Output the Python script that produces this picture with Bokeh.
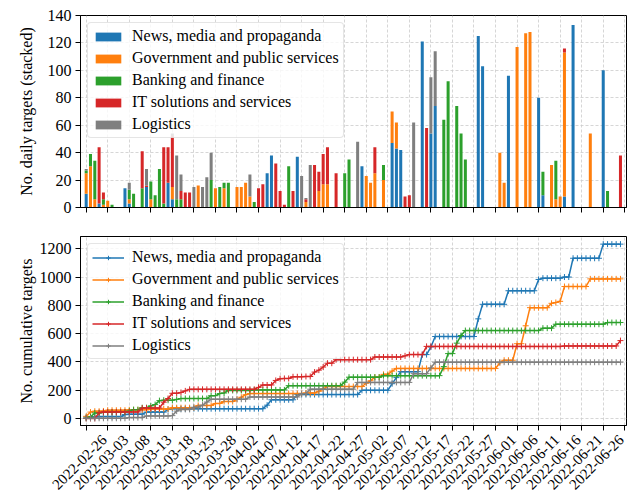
import math
import numpy as np
import pandas as pd
from bokeh.plotting import figure
from bokeh.layouts import column
from bokeh.models import (ColumnDataSource, FixedTicker, LinearAxis, Range1d,
                          Legend, LegendItem)
from bokeh.embed import file_html
from bokeh.resources import INLINE

# ---------------- data ----------------
dates = [d.strftime("%Y-%m-%d") for d in pd.date_range("2022-02-26", "2022-06-30")]
categories = ["News, media and propaganda", "Government and public services",
              "Banking and finance", "IT solutions and services", "Logistics"]
colors = ["#1f77b4", "#ff7f0e", "#2ca02c", "#d62728", "#7f7f7f"]

news = [10, 0, 0, 3, 0, 0, 0, 0, 0, 14, 3, 0, 0, 0, 15, 0, 0, 0, 0, 18, 6, 0, 0, 0, 0,
        0, 0, 0, 0, 0, 0, 0, 0, 0, 0, 0, 0, 0, 0, 0, 0, 0, 25, 38, 0, 0, 0, 0, 0, 37,
        0, 0, 0, 0, 0, 0, 0, 0, 0, 0, 0, 0, 0, 0, 30, 0, 0, 0, 0, 0, 0, 47, 43, 42, 0,
        0, 0, 0, 121, 0, 54, 74, 0, 0, 0, 0, 0, 0, 0, 0, 0, 125, 103, 0, 0, 0, 0, 0, 96, 0,
        0, 0, 0, 0, 0, 80, 9, 0, 0, 0, 0, 8, 0, 133, 0, 0, 0, 0, 0, 0, 100, 0, 0, 0, 0]
government = [15, 30, 6, 0, 2, 5, 0, 0, 0, 0, 3, 0, 0, 0, 0, 6, 0, 0, 0, 0, 9, 0, 0, 0, 0,
              0, 16, 0, 0, 0, 14, 0, 14, 0, 0, 15, 15, 18, 8, 0, 0, 0, 0, 0, 0, 0, 0, 0, 0, 0,
              0, 4, 0, 0, 12, 17, 17, 0, 0, 0, 0, 0, 0, 0, 0, 23, 18, 25, 0, 20, 0, 23, 19, 0, 0,
              0, 0, 0, 0, 0, 0, 0, 0, 0, 0, 0, 0, 0, 0, 0, 0, 0, 0, 0, 0, 0, 40, 18, 0, 0,
              117, 0, 127, 128, 0, 0, 0, 0, 31, 6, 8, 105, 0, 0, 0, 0, 0, 54, 0, 0, 0, 0, 0, 0, 0]
banking = [2, 9, 28, 0, 4, 0, 2, 0, 0, 0, 7, 10, 0, 14, 0, 13, 9, 28, 3, 0, 0, 6, 6, 0, 0,
           0, 0, 0, 0, 20, 0, 15, 4, 18, 0, 0, 0, 0, 0, 4, 0, 0, 0, 0, 0, 0, 0, 30, 0, 0,
           0, 0, 0, 0, 0, 0, 0, 0, 0, 0, 25, 35, 0, 0, 0, 0, 0, 0, 0, 11, 0, 0, 0, 0, 0,
           0, 0, 0, 0, 0, 0, 0, 0, 64, 92, 0, 74, 54, 35, 0, 0, 0, 0, 0, 0, 0, 0, 0, 0, 0,
           0, 0, 0, 0, 0, 0, 17, 0, 0, 28, 0, 0, 0, 0, 0, 0, 0, 0, 0, 0, 0, 12, 0, 0, 0]
it_services = [0, 0, 0, 41, 5, 0, 0, 0, 0, 0, 0, 0, 0, 27, 1, 0, 0, 0, 41, 26, 37, 0, 6, 11, 11,
               0, 0, 0, 0, 0, 0, 0, 0, 0, 0, 0, 0, 0, 0, 0, 14, 17, 0, 0, 32, 12, 2, 0, 12, 0,
               0, 2, 0, 31, 14, 22, 27, 0, 25, 0, 0, 0, 0, 0, 0, 0, 0, 19, 0, 0, 0, 0, 0, 0, 8,
               9, 0, 0, 0, 58, 0, 0, 0, 0, 0, 0, 0, 0, 0, 0, 0, 0, 0, 0, 0, 0, 0, 0, 0, 0,
               0, 0, 0, 0, 0, 0, 0, 0, 0, 0, 0, 3, 0, 0, 0, 0, 0, 0, 0, 0, 0, 0, 0, 0, 38]
logistics = [1, 0, 0, 0, 0, 0, 0, 0, 0, 0, 5, 0, 0, 0, 12, 0, 0, 0, 0, 0, 2, 32, 12, 0, 0,
             15, 0, 15, 22, 20, 0, 0, 0, 0, 0, 0, 0, 0, 16, 0, 0, 0, 0, 0, 0, 0, 0, 0, 0, 0,
             23, 1, 31, 0, 0, 0, 0, 0, 0, 0, 0, 0, 0, 48, 0, 0, 0, 0, 0, 0, 0, 0, 0, 0, 0,
             0, 62, 0, 0, 0, 41, 40, 0, 0, 0, 0, 0, 0, 0, 0, 0, 0, 0, 0, 0, 0, 0, 0, 0, 0,
             0, 0, 0, 0, 0, 0, 0, 0, 0, 0, 0, 0, 0, 0, 0, 0, 0, 0, 0, 0, 0, 0, 0, 0, 0]

daily_ticks = [0, 20, 40, 60, 80, 100, 120, 140]
cum_ticks = [0, 200, 400, 600, 800, 1000, 1200]

# ---------------- build ----------------
FONT = "Liberation Serif"
keys = ["news", "gov", "bank", "it", "log"]
series = [news, government, banking, it_services, logistics]
day = np.arange(len(dates))

src = ColumnDataSource(dict(day=day, **{k: s for k, s in zip(keys, series)}))
cum_src = ColumnDataSource(dict(day=day, **{k: np.cumsum(s) for k, s in zip(keys, series)}))

X0, X1 = -1.32, 125.4
xr = Range1d(X0, X1)
date_ticks = list(range(0, 126, 5))
label_ticks = list(range(0, 121, 5))
SHIFT = 4.2


def style(p, yticks):
    p.outline_line_color = "black"
    p.outline_line_width = 1
    for ax in (p.xaxis[0], p.yaxis[0]):
        ax.axis_line_color = "black"
        ax.axis_line_width = 1
        ax.major_tick_out = 5
        ax.major_tick_in = 0
        ax.major_tick_line_width = 1
        ax.major_tick_line_color = "black"
        ax.minor_tick_line_color = None
        ax.major_label_text_font = FONT
        ax.major_label_text_font_size = "16px"
        ax.major_label_text_color = "black"
        ax.axis_label_text_font = FONT
        ax.axis_label_text_font_size = "16px"
        ax.axis_label_text_font_style = "normal"
        ax.axis_label_text_color = "black"
    p.xaxis[0].ticker = FixedTicker(ticks=date_ticks)
    p.xaxis[0].major_label_overrides = {t: "" for t in date_ticks}
    p.xaxis[0].major_label_text_font_size = "0px"
    p.xaxis[0].major_label_standoff = 0
    p.yaxis[0].ticker = FixedTicker(ticks=yticks)
    p.yaxis[0].major_label_standoff = 4
    p.xgrid.ticker = FixedTicker(ticks=date_ticks)
    p.ygrid.ticker = FixedTicker(ticks=yticks)
    for g in (p.xgrid[0], p.ygrid[0]):
        g.grid_line_color = "#cccccc"
        g.grid_line_dash = "3 2"
        g.grid_line_width = 1
        g.grid_line_alpha = 0.8


def style_legend(lg):
    lg.location = "top_left"
    lg.margin = 7
    lg.padding = 4
    lg.spacing = 4
    lg.label_height = 18
    lg.glyph_width = 32
    lg.glyph_height = 11
    lg.label_standoff = 8
    lg.label_text_font = FONT
    lg.label_text_font_size = "16px"
    lg.label_text_color = "black"
    lg.border_line_color = "#cccccc"
    lg.border_line_width = 1
    lg.background_fill_color = "white"
    lg.background_fill_alpha = 0.8
    if "border_radius" in lg.properties():
        lg.border_radius = 4


# top: stacked daily bars
p1 = figure(width=627, height=221, x_range=xr, y_range=Range1d(0, 140),
            output_backend="svg", toolbar_location=None,
            min_border_left=80, min_border_right=1, min_border_top=15, min_border_bottom=14)
style(p1, daily_ticks)
p1.yaxis[0].axis_label = "No. daily targets (stacked)"
p1.yaxis[0].axis_label_standoff = 10
bars = p1.vbar_stack(keys, x="day", width=0.7, color=colors, line_color=None, source=src)
lg1 = Legend(items=[LegendItem(label=c, renderers=[r]) for c, r in zip(categories, bars)])
p1.add_layout(lg1, "center")
style_legend(lg1)

# bottom: cumulative lines
p2 = figure(width=627, height=276, x_range=xr, y_range=Range1d(-50, 1288),
            output_backend="svg", toolbar_location=None,
            min_border_left=80, min_border_right=1, min_border_top=15, min_border_bottom=69)
style(p2, cum_ticks)
p2.yaxis[0].axis_label = "No. cumulative targets"
p2.yaxis[0].axis_label_standoff = 2
items = []
for k, c, col in zip(keys, categories, colors):
    lr = p2.line("day", k, source=cum_src, line_color=col, line_width=1.5)
    sr = p2.scatter("day", k, source=cum_src, marker="cross", size=6,
                    line_color=col, line_width=1)
    items.append(LegendItem(label=c, renderers=[lr, sr]))
lg2 = Legend(items=items)
p2.add_layout(lg2, "center")
style_legend(lg2)

p2.extra_x_ranges = {"lab": Range1d(X0 - SHIFT, X1 - SHIFT)}
lab_axis = LinearAxis(x_range_name="lab", ticker=FixedTicker(ticks=label_ticks),
                      major_label_overrides={t: dates[t] for t in label_ticks},
                      major_label_orientation=math.pi / 4,
                      axis_line_color=None, major_tick_line_color=None,
                      minor_tick_line_color=None,
                      major_label_text_font=FONT, major_label_text_font_size="15px",
                      major_label_text_color="black", major_label_standoff=1)
p2.add_layout(lab_axis, "below")

layout = column(p1, p2, spacing=0)
open("out.html", "w").write(file_html(layout, INLINE))
